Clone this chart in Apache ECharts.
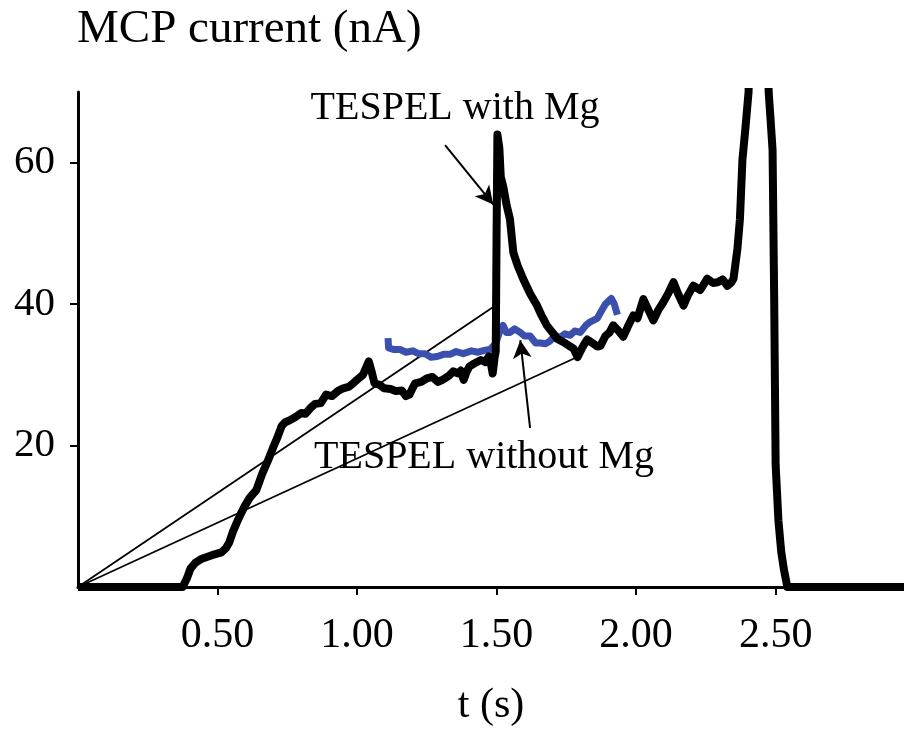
<!DOCTYPE html>
<html><head><meta charset="utf-8">
<script src="https://cdn.jsdelivr.net/npm/echarts@6/dist/echarts.min.js"></script>
<style>html,body{margin:0;padding:0;background:#fff}#c{width:904px;height:732px}</style>
</head><body><div id="c"></div>
<script>
// MCP current with TESPEL containing Mg (black)
const blackT = [0,0.375,0.39,0.403,0.42,0.444,0.48,0.514,0.53,0.542,0.555,0.569,0.583,0.597,0.615,0.639,0.66,0.681,0.70,0.715,0.73,0.743,0.76,0.778,0.80,0.815,0.833,0.85,0.87,0.889,0.91,0.931,0.95,0.97,0.986,1.00,1.021,1.032,1.042,1.052,1.0625,1.08,1.097,1.12,1.139,1.16,1.175,1.1875,1.2,1.208,1.23,1.25,1.27,1.29,1.306,1.33,1.345,1.361,1.372,1.382,1.392,1.403,1.42,1.444,1.46,1.472,1.48,1.486,1.493,1.497,1.500,1.503,1.510,1.515,1.524,1.536,1.548,1.56,1.575,1.595,1.62,1.645,1.66,1.68,1.70,1.717,1.745,1.776,1.79,1.80,1.812,1.825,1.84,1.861,1.872,1.89,1.905,1.918,1.935,1.954,1.97,1.99,2.005,2.026,2.04,2.062,2.08,2.098,2.115,2.134,2.15,2.17,2.185,2.205,2.23,2.255,2.275,2.292,2.31,2.327,2.34,2.349,2.363,2.372,2.381,2.392,2.403,2.44,2.475,2.482,2.489,2.495,2.50,2.51,2.52,2.53,2.542,2.6,2.96];
const blackV = [0,0,1.2,2.6,3.4,4.0,4.5,4.9,5.5,6.3,7.8,9.1,10.3,11.4,12.6,13.7,16.0,17.9,19.8,21.2,22.8,23.3,23.6,24.0,24.6,24.5,25.3,25.9,26.0,27.2,27.0,27.7,28.1,28.3,28.8,29.3,30.0,31.0,31.9,30.5,28.8,28.6,28.1,28.0,27.7,27.8,27.0,27.2,28.2,28.8,29.0,29.5,29.7,29.0,29.3,29.9,30.5,30.2,30.6,29.3,30.4,31.2,31.6,32.1,31.8,32.6,31.5,30.2,32.5,33.3,50,64,62,58,56.6,54.0,52,47.3,45.5,43.6,41.5,39.8,38.5,37,36.0,35.1,34.5,33.7,32.5,33.3,34.2,35.0,34.6,34.0,34.1,35.5,36.0,37.0,36.3,35.4,36.8,38.4,38.0,40.7,39.5,37.7,39.2,40.3,41.5,43.1,41.5,39.8,41.2,42.6,42.0,43.6,43.0,43.1,43.5,42.6,43.0,43.6,47.8,52,60.4,65,70,160,70,66,61.8,40,17.3,9.4,5.0,2.4,0,0,0];
// TESPEL without Mg (blue)
const blueT = [1.111,1.113,1.13,1.154,1.175,1.20,1.22,1.244,1.265,1.287,1.31,1.333,1.355,1.38,1.41,1.434,1.46,1.477,1.498,1.51,1.523,1.535,1.548,1.565,1.585,1.60,1.62,1.64,1.657,1.675,1.692,1.71,1.728,1.745,1.764,1.78,1.80,1.82,1.836,1.861,1.875,1.89,1.911,1.922,1.933];
const blueV = [35.2,33.8,33.6,33.6,33.2,33.4,33.0,33.0,32.5,32.6,32.9,32.9,33.3,33.0,33.4,33.2,33.5,33.6,34.5,36.0,37,36.0,36,36.5,36,35.5,35.5,34.5,34.5,34.4,34.8,35.6,35.3,35.8,35.6,36.2,36,37.0,37.5,38,39.0,40,40.8,40.0,38.5];
// thin straight lines from origin
const slope1T = [0, 1.488]; const slope1V = [0, 39.6];
const slope2T = [0, 1.793]; const slope2V = [0, 32.6];
// annotations (data units)
const labelWith = {text: 'TESPEL with Mg', t: 1.351, v: 67.7};
const labelWithout = {text: 'TESPEL without Mg', t: 1.455, v: 18.3};
const arrowWith = [[1.3155, 62.5], [1.488, 54.1]];
const arrowWithout = [[1.62, 22.5], [1.585, 34.9]];
const xTicks = [0.5, 1.0, 1.5, 2.0, 2.5];
const yTicks = [20, 40, 60];

const zip = (a, b) => a.map((x, i) => [x, b[i]]);
const FONT = 'Liberation Serif';
const chart = echarts.init(document.getElementById('c'), null, {renderer: 'canvas'});
chart.setOption({
  animation: false,
  backgroundColor: '#fff',
  title: {text: 'MCP current (nA)', left: 77, top: 6, padding: 0,
    textStyle: {fontFamily: FONT, fontSize: 47, fontWeight: 'normal', color: '#000'}},
  grid: {left: 78, right: 0, top: 92, bottom: 142},
  xAxis: {type: 'value', min: 0, max: 2.96,
    name: 't (s)', nameLocation: 'middle', nameGap: 98,
    nameTextStyle: {fontFamily: FONT, fontSize: 42, color: '#000'},
    axisLine: {lineStyle: {color: '#000', width: 3}},
    axisTick: {customValues: xTicks, length: 8, lineStyle: {color: '#000', width: 2}},
    axisLabel: {customValues: xTicks, margin: 28, fontFamily: FONT, fontSize: 42, color: '#000',
      formatter: v => v.toFixed(2)},
    splitLine: {show: false}},
  yAxis: {type: 'value', min: 0, max: 70,
    axisLine: {show: true, lineStyle: {color: '#000', width: 3}},
    axisTick: {show: true, customValues: yTicks, length: 8, lineStyle: {color: '#000', width: 2}},
    axisLabel: {customValues: yTicks, margin: 23, padding: [12, 0, 0, 0], fontFamily: FONT, fontSize: 41, color: '#000'},
    splitLine: {show: false}},
  series: [
    {type: 'line', data: zip(slope1T, slope1V), symbol: 'none', lineStyle: {color: '#000', width: 1.8}, z: 1},
    {type: 'line', data: zip(slope2T, slope2V), symbol: 'none', lineStyle: {color: '#000', width: 1.8}, z: 1},
    {type: 'line', data: zip(blueT, blueV), symbol: 'none', lineStyle: {color: '#3a4fae', width: 7, join: 'round'}, z: 2},
    {type: 'line', data: zip(blackT, blackV), symbol: 'none', clip: true, lineStyle: {color: '#000', width: 8, join: 'round'}, z: 3},
    {type: 'line', data: [], symbol: 'none', z: 4,
      markLine: {silent: true, symbol: ['none', 'arrow'], symbolSize: [14, 18],
        label: {show: false}, lineStyle: {color: '#000', width: 2, type: 'solid'},
        data: [
          [{coord: arrowWith[0]}, {coord: arrowWith[1]}],
          [{coord: arrowWithout[0]}, {coord: arrowWithout[1]}]
        ]},
      markPoint: {silent: true, symbol: 'circle', symbolSize: 0,
        label: {show: true, position: 'inside', fontFamily: FONT, fontSize: 40, color: '#000',
          formatter: p => p.name},
        data: [
          {name: labelWith.text, coord: [labelWith.t, labelWith.v]},
          {name: labelWithout.text, coord: [labelWithout.t, labelWithout.v]}
        ]}}
  ]
});
</script></body></html>
